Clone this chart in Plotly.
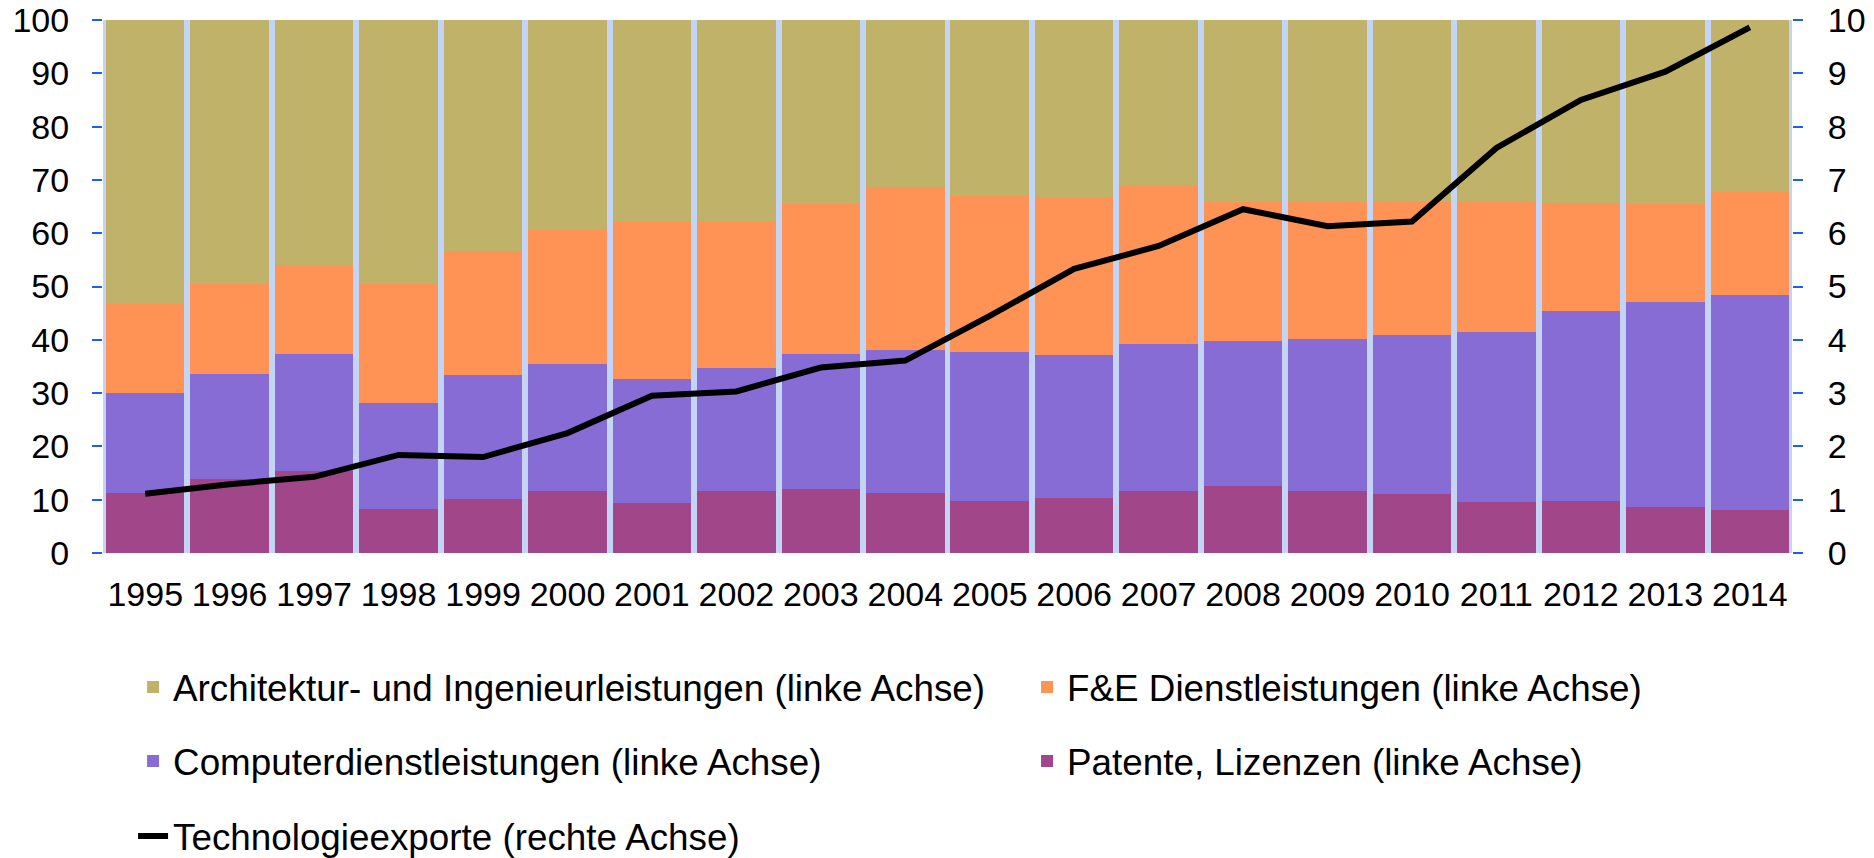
import plotly.graph_objects as go

years = list(range(1995, 2015))

# Shares in % (left axis)
patente = [11.2, 13.8, 15.3, 8.3, 10.2, 11.7, 9.3, 11.7, 12.1, 11.2,
           9.7, 10.4, 11.7, 12.6, 11.7, 11.1, 9.6, 9.8, 8.7, 8.1]
computer = [18.9, 19.8, 22.1, 19.8, 23.2, 23.8, 23.3, 23.1, 25.2, 26.9,
            28.1, 26.7, 27.5, 27.2, 28.5, 29.8, 31.8, 35.6, 38.4, 40.3]
fe = [16.7, 16.9, 16.7, 22.4, 23.3, 25.2, 29.5, 27.4, 28.2, 30.5,
      29.2, 29.6, 29.7, 26.1, 25.9, 24.9, 24.4, 20.2, 18.3, 19.4]
architektur = [53.2, 49.5, 45.9, 49.5, 43.3, 39.3, 37.9, 37.8, 34.5, 31.4,
               33.0, 33.3, 31.1, 34.1, 33.9, 34.2, 34.2, 34.4, 34.6, 32.2]
# Technology exports (right axis)
technologieexporte = [1.11, 1.29, 1.43, 1.84, 1.80, 2.25, 2.95, 3.03, 3.48, 3.61,
                      4.45, 5.33, 5.76, 6.45, 6.13, 6.22, 7.60, 8.50, 9.03, 9.86]

left_ticks = list(range(0, 101, 10))
right_ticks = list(range(0, 11, 1))

FONT = "Arial, Liberation Sans, sans-serif"
TICK_BLUE = "#1f5ef5"

fig = go.Figure()

fig.add_trace(go.Bar(x=years, y=patente, name="Patente, Lizenzen (linke Achse)",
                     marker=dict(color="#a2468a", line=dict(width=0)), legend="legend2"))
fig.add_trace(go.Bar(x=years, y=computer, name="Computerdienstleistungen (linke Achse)",
                     marker=dict(color="#886cd6", line=dict(width=0)), legend="legend2",
                     legendwidth=849))
fig.add_trace(go.Bar(x=years, y=fe, name="F&E Dienstleistungen (linke Achse)",
                     marker=dict(color="#ff9255", line=dict(width=0)), legend="legend"))
fig.add_trace(go.Bar(x=years, y=architektur, name="Architektur- und Ingenieurleistungen (linke Achse)",
                     marker=dict(color="#c0b268", line=dict(width=0)), legend="legend",
                     legendwidth=849))
fig.add_trace(go.Scatter(x=years, y=technologieexporte, name="Technologieexporte (rechte Achse)",
                         mode="lines", line=dict(color="black", width=6), yaxis="y2",
                         legend="legend3"))

leg_common = dict(orientation="h", xref="paper", yref="paper", x=0.0178, xanchor="left",
                  yanchor="middle", font=dict(family=FONT, size=36.8, color="black"),
                  bgcolor="rgba(0,0,0,0)", borderwidth=0)

fig.update_layout(
    width=1874, height=858,
    margin=dict(l=103, r=82, t=20, b=305, autoexpand=False),
    paper_bgcolor="white",
    plot_bgcolor="#c4d4f4",
    barmode="stack",
    bargap=0.07,
    font=dict(family=FONT, size=34, color="black"),
    xaxis=dict(range=[1994.5, 2014.5], tickvals=years, ticktext=[str(y) for y in years],
               showgrid=False, zeroline=False, showline=False, ticks="",
               tickfont=dict(size=34), ticklabelstandoff=18),
    yaxis=dict(range=[0, 100], tickvals=left_ticks, showgrid=False, zeroline=False,
               showline=False, ticks="outside", ticklen=10, tickwidth=2, tickcolor=TICK_BLUE,
               tickfont=dict(size=34), ticklabelstandoff=16, ticklabeloverflow="allow"),
    yaxis2=dict(range=[0, 10], tickvals=right_ticks, overlaying="y", side="right",
                showgrid=False, zeroline=False, showline=False, ticks="outside", ticklen=10,
                tickwidth=2, tickcolor=TICK_BLUE, tickfont=dict(size=34),
                ticklabelstandoff=18, ticklabeloverflow="allow"),
    legend=dict(y=-0.2514, traceorder="reversed", **leg_common),
    legend2=dict(y=-0.3902, traceorder="reversed", **leg_common),
    legend3=dict(y=-0.5310, traceorder="normal", **leg_common),
)

# remove the browser's default 8px body margin so the figure fills the window exactly
fig.write_html("out.html",
               config={"displayModeBar": False},
               post_script="document.body.style.margin='0';document.body.style.padding='0';")
